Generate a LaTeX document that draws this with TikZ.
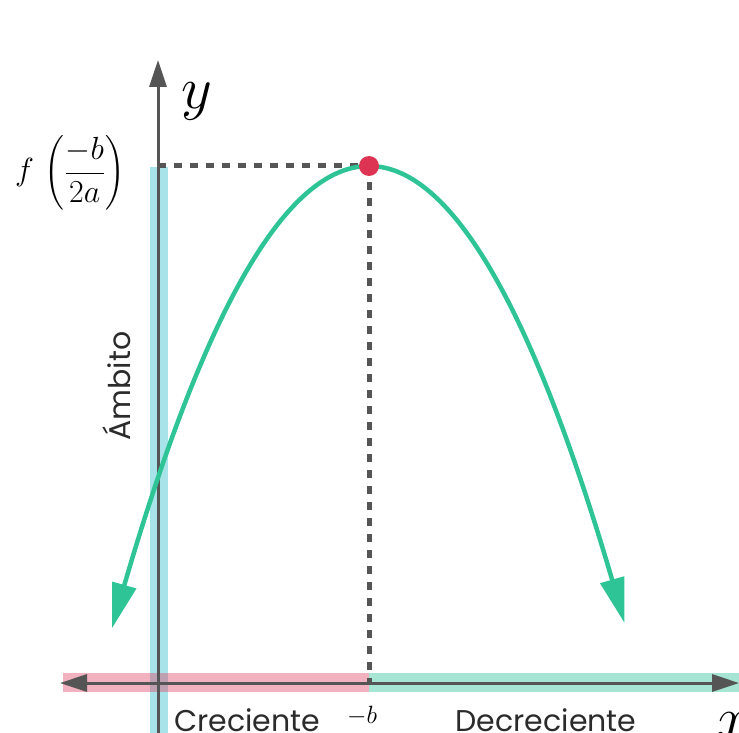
\documentclass[tikz,border=0pt]{standalone}
\usepackage{fix-cm}
\usepackage{exscale}
\usepackage{fontspec}
\setsansfont{Poppins}
\usetikzlibrary{arrows.meta}
\definecolor{axisgray}{HTML}{555555}
\definecolor{curvegreen}{HTML}{2EC495}
\definecolor{dotred}{HTML}{DC3452}
\definecolor{bandcyan}{RGB}{40,185,203}
\definecolor{bandpink}{RGB}{222,60,92}
\definecolor{bandgreen}{RGB}{32,190,145}
\definecolor{labelgray}{HTML}{2B2B2B}
\begin{document}
\begin{tikzpicture}[x=1pt,y=-1pt,
  band/.style={fill opacity=0.4, draw=none},
  axisline/.style={draw=axisgray, line width=3pt},
  guide/.style={draw=axisgray, line width=5pt, dash pattern=on 8pt off 8pt},
  curveline/.style={draw=curvegreen, line width=4.5pt},
  curvetip/.style={draw=curvegreen, line width=4.5pt, -{Triangle[length=45pt,width=24pt]}},
  lbl/.style={font=\sffamily\fontsize{30}{34}\selectfont, text=labelgray, inner sep=0pt, anchor=base}]
\useasboundingbox (0,0) rectangle (739,733);
% bands
\fill[band, bandcyan] (150,167) rectangle (168,733);
\fill[band, bandpink] (63,673) rectangle (369,692);
\fill[band, bandgreen] (369,673) rectangle (739,692);
% coordinates
\coordinate (ybot) at (158,733);
\coordinate (ytop) at (158,60);
\coordinate (xleft) at (60,683);
\coordinate (xright) at (739,683);
\coordinate (yv) at (158,166);
\coordinate (xv) at (369,683);
\coordinate (vtx) at (369,166);
\coordinate (bl) at (124.05,586.0);
\coordinate (br) at (612.4,580.7);
\coordinate (cl) at (112,628.3);
\coordinate (cr) at (624.5,623);
% axes
\draw[axisline, -{Triangle[length=27pt,width=17pt]}] (ybot) -- (ytop);
\draw[axisline, {Triangle[length=27pt,width=17pt]}-{Triangle[length=27pt,width=17pt]}] (xleft) -- (xright);
% guides
\draw[guide] (yv) -- (vtx);
\draw[guide] (vtx) -- (xv);
% parabola
\draw[curveline] (bl) .. controls (286.83,27.77) and (449.62,26.0) .. (br);
\draw[curvetip] (bl) -- (cl);
\draw[curvetip] (br) -- (cr);
% vertex
\node[circle, fill=dotred, minimum size=20pt, inner sep=0pt] (dot) at (vtx) {};
% labels
\node[inner sep=0pt] (ylab) at (197,101) {\fontsize{60}{64}\selectfont$y$};
\node[inner sep=0pt] (xlab) at (733,726) {\fontsize{60}{64}\selectfont$x$};
\node[inner sep=0pt] (flab) at (70,173) {\fontsize{32}{38}\selectfont$f\,\left({\displaystyle\frac{-b}{2a}}\right)$};
\node[inner sep=0pt] (blab) at (362,716) {\fontsize{25}{30}\selectfont$-b$};
\node[lbl] (cre) at (247,731) {Creciente};
\node[lbl] (dec) at (546,731) {Decreciente};
\node[lbl, rotate=90] (amb) at (130,386) {Ámbito};
\end{tikzpicture}
\end{document}
